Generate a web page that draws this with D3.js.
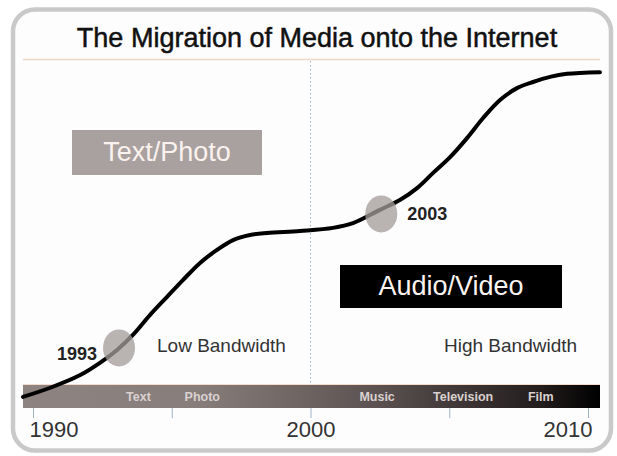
<!DOCTYPE html>
<html><head><meta charset="utf-8">
<script src="https://cdn.jsdelivr.net/npm/d3@7"></script>
<style>
html,body{margin:0;padding:0;background:#fff;}
svg{display:block;font-family:Arial,"Liberation Sans",Helvetica,sans-serif;}
</style></head>
<body>
<svg id="chart" width="617" height="456"></svg>
<script>
// ---- data ----
const title = "The Migration of Media onto the Internet";
const curveYears  = [1989.64,1990.6,1991.7,1992.41,1993.03,1993.6,1994.22,1994.83,1995.41,1996.02,1996.63,1997.21,1997.82,1998.43,1999.62,2000.81,2001.53,2002.5,2003.22,2003.84,2004.41,2005.03,2005.64,2006.22,2006.83,2007.44,2008.02,2008.63,2009.24,2010.43];
const curveValues = [2.4,5.0,8.8,12.4,16.2,20.6,26.5,31.8,36.8,41.8,45.6,48.5,50.0,50.6,51.2,52.1,53.5,57.4,60.3,63.8,68.2,72.9,78.5,84.4,89.7,93.2,95.0,96.5,97.4,97.9];
const markerLabels = ["1993","2003"];
const markerYears  = [1993.1, 2002.55];
const markerValues = [16.8, 56.2];
const mediaLabels = ["Text","Photo","Music","Television","Film"];
const mediaYears  = [1993.8, 1996.1, 2002.4, 2005.5, 2008.3];
const eraLabels = ["Text/Photo","Audio/Video"];
const bandwidthLabels = ["Low Bandwidth","High Bandwidth"];
const tickYears = [1990,1995,2000,2005,2010];
const tickLabels = ["1990","","2000","","2010"];

// ---- drawing ----
const svg = d3.select("#chart");
const x = d3.scaleLinear().domain([1990,2010]).range([33,588]);
const y = d3.scaleLinear().domain([0,100]).range([405,65]);
const plotL = 23, plotR = 600, barTop = 385, barBot = 408;

// frame
svg.append("rect").attr("x",13).attr("y",9.5).attr("width",598).attr("height",441)
  .attr("rx",22).attr("fill","#fdfdfe").attr("stroke","#c9c9c9").attr("stroke-width",4.5);

// title
svg.append("text").attr("x",317).attr("y",47).attr("text-anchor","middle")
  .attr("font-size",27).attr("fill","#111").attr("stroke","#111").attr("stroke-width",0.5)
  .text(title);
svg.append("line").attr("x1",plotL).attr("x2",plotR).attr("y1",59.5).attr("y2",59.5)
  .attr("stroke","#efd6c6").attr("stroke-width",1.5);

// divider at 2000
svg.append("line").attr("x1",x(2000)).attr("x2",x(2000)).attr("y1",61).attr("y2",barTop)
  .attr("stroke","#9fb3c6").attr("stroke-width",1).attr("stroke-dasharray","1.5,2.5");

// era boxes
svg.append("rect").attr("x",72).attr("y",130).attr("width",190).attr("height",45).attr("fill","#a9a19f");
svg.append("text").attr("x",167).attr("y",161).attr("text-anchor","middle").attr("font-size",27)
  .attr("fill","#faf2ee").text(eraLabels[0]);
svg.append("rect").attr("x",340).attr("y",265).attr("width",222).attr("height",43).attr("fill","#000");
svg.append("text").attr("x",451).attr("y",295).attr("text-anchor","middle").attr("font-size",27)
  .attr("fill","#fbf3ef").text(eraLabels[1]);

// bandwidth labels
svg.append("text").attr("x",157).attr("y",352).attr("font-size",19).attr("fill","#333").text(bandwidthLabels[0]);
svg.append("text").attr("x",444).attr("y",352).attr("font-size",19).attr("fill","#333").text(bandwidthLabels[1]);

// media bar
const defs = svg.append("defs");
const grad = defs.append("linearGradient").attr("id","barg").attr("x1","0").attr("x2","1").attr("y1","0").attr("y2","0");
[[0,"#8d8381"],[0.3,"#877d7b"],[0.5,"#6c6260"],[0.62,"#5a5050"],[0.76,"#3e3636"],[0.9,"#221c1c"],[1,"#000"]]
  .forEach(s=>grad.append("stop").attr("offset",s[0]).attr("stop-color",s[1]));
svg.append("rect").attr("x",plotL).attr("y",barTop).attr("width",plotR-plotL).attr("height",barBot-barTop).attr("fill","url(#barg)");
svg.append("line").attr("x1",plotL).attr("x2",plotR).attr("y1",barTop-0.5).attr("y2",barTop-0.5).attr("stroke","#f3dccd").attr("stroke-width",1);
svg.selectAll(".media").data(mediaLabels).join("text").attr("class","media")
  .attr("x",(d,i)=>x(mediaYears[i])).attr("y",401).attr("text-anchor","middle")
  .attr("font-size",12.5).attr("font-weight","bold").attr("fill","#d9d1cf").text(d=>d);

// curve
const pts = curveYears.map((yr,i)=>[yr,curveValues[i]]);
const line = d3.line().x(d=>x(d[0])).y(d=>y(d[1])).curve(d3.curveCatmullRom.alpha(0.5));
svg.append("path").datum(pts).attr("d",line).attr("fill","none").attr("stroke","#000")
  .attr("stroke-width",4).attr("stroke-linecap","round");

// markers
markerLabels.forEach((lab,i)=>{
  svg.append("ellipse").attr("cx",x(markerYears[i])).attr("cy",y(markerValues[i]))
    .attr("rx",16).attr("ry",18.5).attr("fill","rgb(163,155,153)").attr("fill-opacity",0.76);
});
svg.append("text").attr("x",x(markerYears[0])-22).attr("y",360).attr("text-anchor","end")
  .attr("font-size",18).attr("font-weight","bold").attr("fill","#222").text(markerLabels[0]);
svg.append("text").attr("x",x(markerYears[1])+26).attr("y",220).attr("text-anchor","start")
  .attr("font-size",18).attr("font-weight","bold").attr("fill","#222").text(markerLabels[1]);

// axis
const axis = d3.axisBottom(x).tickValues(tickYears).tickSize(10).tickFormat((d,i)=>tickLabels[i]);
const ag = svg.append("g").attr("transform",`translate(0,${barBot})`).call(axis);
ag.select(".domain").remove();
ag.selectAll(".tick line").attr("stroke","#9fb3c6");
ag.selectAll(".tick text").attr("font-size",22).attr("fill","#333").attr("font-family",null)
  .attr("y",29).attr("dy",0)
  .attr("text-anchor",(d,i)=> i===0 ? "start" : (i===tickYears.length-1 ? "end" : "middle"))
  .attr("dx",(d,i)=> i===0 ? -4 : (i===tickYears.length-1 ? 4 : 0));
</script>
</body></html>
